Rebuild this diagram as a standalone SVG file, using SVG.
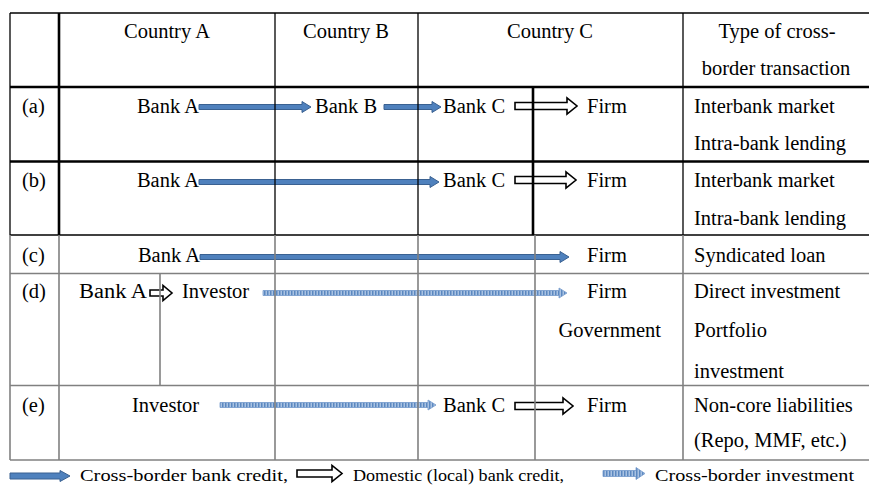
<svg xmlns="http://www.w3.org/2000/svg" width="869" height="487" viewBox="0 0 869 487">
  <defs>
    <pattern id="stripe" width="3" height="3" patternUnits="userSpaceOnUse">
      <rect width="3" height="3" fill="#a9c2e2"/>
      <rect width="1.5" height="3" fill="#5b88c0"/>
    </pattern>
  </defs>
  <style>
    text { font-family: "Liberation Serif", "Times New Roman", serif; font-size: 20.5px; fill: #000; }
    .legend { font-size: 17.5px; }
    .mid { text-anchor: middle; }
    .end { text-anchor: end; }
    .bank { fill: #4f81bd; stroke: #3a6191; stroke-width: 1; }
    .local { fill: #fff; stroke: #000; stroke-width: 1.6; }
    .invest { fill: url(#stripe); stroke: #7399cc; stroke-width: 0.8; }
    .thick { stroke: #000; stroke-width: 2.6; fill: none; }
    .thin { stroke: #000; stroke-width: 1.3; fill: none; }
    .grey { stroke: #808080; stroke-width: 1.6; fill: none; }
  </style>

  <rect width="869" height="487" fill="#fff"/>

  <!-- flows between institutions -->
  <g id="connectors">
    <!-- row (a) -->
    <path class="bank" d="M199,104.5 H302 V101.5 L311,107 L302,112.5 V109.5 H199 Z"/>
    <path class="bank" d="M384,104.5 H432 V101.5 L441,107 L432,112.5 V109.5 H384 Z"/>
    <path class="local" d="M515,102.5 H567 V98 L577,106 L567,114 V109.5 H515 Z"/>
    <!-- row (b) -->
    <path class="bank" d="M199,179.5 H430 V176.5 L439,182 L430,187.5 V184.5 H199 Z"/>
    <path class="local" d="M515,176.5 H566 V172 L576,180 L566,188 V183.5 H515 Z"/>
    <!-- row (c) -->
    <path class="bank" d="M200,254.5 H560 V251.5 L569,257 L560,262.5 V259.5 H200 Z"/>
    <!-- row (d) -->
    <path class="local" d="M150,290 H163 V285.5 L172,293 L163,300.5 V296 H150 Z"/>
    <path class="invest" d="M263,290.5 H559 V288 L567,293 L559,298 V295.5 H263 Z"/>
    <!-- row (e) -->
    <path class="invest" d="M220,402.5 H428 V400 L436,405 L428,410 V407.5 H220 Z"/>
    <path class="local" d="M515,402.5 H563 V398 L573,406 L563,414 V409.5 H515 Z"/>
  </g>

  <!-- table grid -->
  <g id="grid">
    <line class="thin" x1="10" y1="13" x2="869" y2="13"/>
    <line class="thick" x1="10" y1="87" x2="869" y2="87"/>
    <line class="thick" x1="10" y1="161.5" x2="869" y2="161.5"/>
    <line class="thin" x1="10" y1="235" x2="869" y2="235"/>
    <line class="grey" x1="10" y1="273.5" x2="869" y2="273.5"/>
    <line class="grey" x1="10" y1="385.5" x2="869" y2="385.5"/>
    <line class="grey" x1="10" y1="460" x2="869" y2="460"/>

    <line class="thin" x1="10" y1="13" x2="10" y2="235"/>
    <line class="thick" x1="59" y1="13" x2="59" y2="235"/>
    <line class="thin" x1="275" y1="13" x2="275" y2="235"/>
    <line class="thin" x1="418" y1="13" x2="418" y2="235"/>
    <line class="thick" x1="533" y1="87" x2="533" y2="235"/>
    <line class="thin" x1="683" y1="13" x2="683" y2="235"/>

    <line class="grey" x1="10" y1="235" x2="10" y2="460"/>
    <line class="grey" x1="59" y1="235" x2="59" y2="460"/>
    <line class="grey" x1="160" y1="273.5" x2="160" y2="385.5"/>
    <line class="grey" x1="275" y1="235" x2="275" y2="460"/>
    <line class="grey" x1="418" y1="235" x2="418" y2="460"/>
    <line class="grey" x1="535" y1="235" x2="535" y2="460"/>
    <line class="grey" x1="683" y1="235" x2="683" y2="460"/>
  </g>

  <!-- header -->
  <g id="header">
    <text class="mid" x="167" y="38">Country A</text>
    <text class="mid" x="346" y="38">Country B</text>
    <text class="mid" x="550" y="38">Country C</text>
    <text class="mid" x="777" y="38">Type of cross-</text>
    <text class="mid" x="776" y="75">border transaction</text>
  </g>

  <g id="row-a">
    <text x="22" y="113">(a)</text>
    <text class="end" x="199" y="113">Bank A</text>
    <text x="315" y="113">Bank B</text>
    <text x="443" y="113">Bank C</text>
    <text x="587" y="113">Firm</text>
    <text x="694" y="113">Interbank market</text>
    <text x="694" y="150">Intra-bank lending</text>
  </g>

  <g id="row-b">
    <text x="22" y="187">(b)</text>
    <text class="end" x="199" y="187">Bank A</text>
    <text x="443" y="187">Bank C</text>
    <text x="587" y="187">Firm</text>
    <text x="694" y="187">Interbank market</text>
    <text x="694" y="225">Intra-bank lending</text>
  </g>

  <g id="row-c">
    <text x="22" y="262">(c)</text>
    <text class="end" x="200" y="262">Bank A</text>
    <text x="587" y="262">Firm</text>
    <text x="694" y="262">Syndicated loan</text>
  </g>

  <g id="row-d">
    <text x="22" y="298">(d)</text>
    <text x="79" y="298" textLength="68" lengthAdjust="spacingAndGlyphs">Bank A</text>
    <text x="182" y="298">Investor</text>
    <text x="587" y="298">Firm</text>
    <text class="end" x="661" y="337">Government</text>
    <text x="694" y="298">Direct investment</text>
    <text x="694" y="337">Portfolio</text>
    <text x="694" y="378">investment</text>
  </g>

  <g id="row-e">
    <text x="22" y="412">(e)</text>
    <text x="132" y="412">Investor</text>
    <text x="443" y="412">Bank C</text>
    <text x="587" y="412">Firm</text>
    <text x="694" y="412">Non-core liabilities</text>
    <text x="694" y="447">(Repo, MMF, etc.)</text>
  </g>

  <!-- key -->
  <g id="legend">
    <path class="bank" d="M10,473 H60 V470.5 L70,476 L60,481.5 V479 H10 Z"/>
    <text class="legend" x="80" y="481" textLength="208" lengthAdjust="spacingAndGlyphs">Cross-border bank credit,</text>
    <path class="local" d="M297,470 H332 V465.5 L342,473.5 L332,481.5 V477 H297 Z"/>
    <text class="legend" x="353" y="481" textLength="211" lengthAdjust="spacingAndGlyphs">Domestic (local) bank credit,</text>
    <path class="invest" d="M603,470.5 H636 V467.5 L645,473.5 L636,479.5 V476.5 H603 Z"/>
    <text class="legend" x="655" y="481" textLength="199" lengthAdjust="spacingAndGlyphs">Cross-border investment</text>
  </g>
</svg>
